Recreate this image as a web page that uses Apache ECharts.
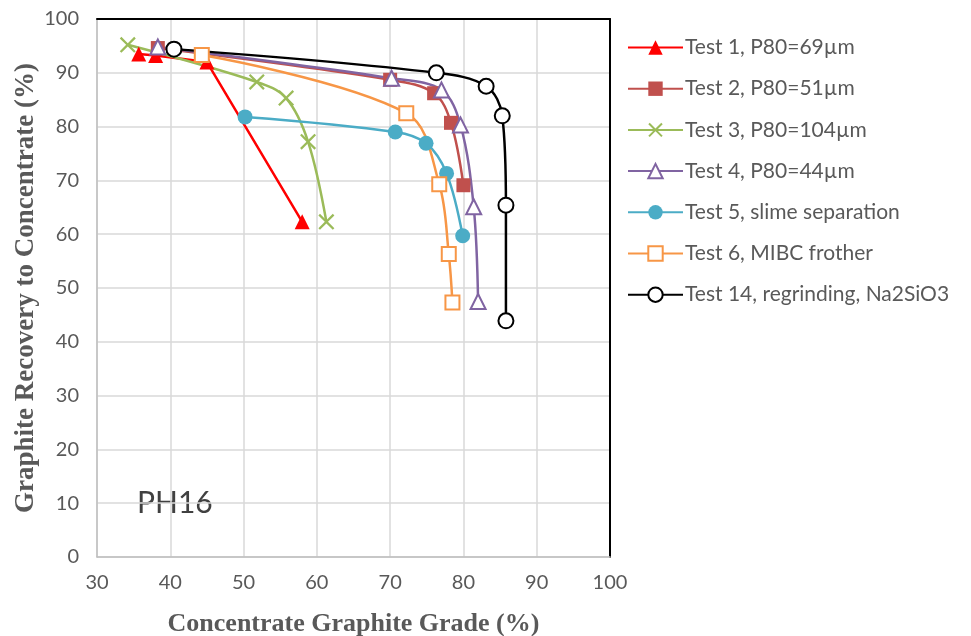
<!DOCTYPE html>
<html>
<head>
<meta charset="utf-8">
<script src="https://cdn.jsdelivr.net/npm/echarts@6/dist/echarts.min.js"></script>
<style>
  html, body { margin: 0; padding: 0; background: #fff; }
  #chart { width: 971px; height: 636px; }
</style>
</head>
<body>
<div id="chart"></div>
<script>
// 数据：每个试验的 [品位, 回收率]
const seriesNames = [
  'Test 1, P80=69µm',
  'Test 2, P80=51µm',
  'Test 3, P80=104µm',
  'Test 4, P80=44µm',
  'Test 5, slime separation',
  'Test 6, MIBC frother',
  'Test 14, regrinding, Na2SiO3'
];
const test1 = [[35.7, 93.5], [38.0, 93.2], [45.0, 92.0], [58.0, 62.3]];
const test2 = [[38.3, 94.6], [70.0, 88.7], [76.0, 86.2], [78.3, 80.7], [80.0, 69.1]];
const test3 = [[34.2, 95.2], [51.8, 88.3], [55.8, 85.3], [58.8, 77.2], [61.3, 62.3]];
const test4 = [[38.3, 94.8], [70.2, 89.0], [77.0, 86.8], [79.6, 80.3], [81.4, 65.1], [82.0, 47.5]];
const test5 = [[50.2, 81.8], [70.7, 79.0], [74.9, 76.9], [77.7, 71.3], [79.9, 59.7]];
const test6 = [[44.3, 93.3], [72.2, 82.5], [76.7, 69.3], [78.0, 56.3], [78.5, 47.3]];
const test14 = [[40.5, 94.4], [76.3, 90.0], [83.1, 87.5], [85.3, 82.0], [85.8, 65.4], [85.8, 43.9]];
const xTicks = [30, 100, 10];
const yTicks = [0, 100, 10];

const allData = [test1, test2, test3, test4, test5, test6, test14];
const colors = ['#FF0000', '#C0504D', '#9BBB59', '#8064A2', '#4BACC6', '#F79646', '#000000'];
const crossPath = 'path://M0,1 L1,0 L5,4 L9,0 L10,1 L6,5 L10,9 L9,10 L5,6 L1,10 L0,9 L4,5 Z';
const symbols = ['triangle', 'rect', crossPath, 'emptyTriangle', 'circle', 'emptyRect', 'emptyCircle'];
const symbolSizes = [15, 14, 16, 15, 15, 14, 15];
const smoothFlags = [false, 0.35, 0.35, 0.35, 0.35, 0.35, 0.35];

const labelColor = '#595959';
const tickFont = 'Lato, "Open Sans", sans-serif';
const titleFont = '"Liberation Serif", "DejaVu Serif", serif';

const chart = echarts.init(document.getElementById('chart'));
chart.setOption({
  animation: false,
  backgroundColor: '#fff',
  grid: { left: 97, top: 19, width: 513, height: 538, outerBoundsMode: 'none', containLabel: false },
  legend: {
    orient: 'vertical',
    left: 622,
    top: 32,
    itemWidth: 55,
    itemHeight: 18,
    itemGap: 20.2,
    textStyle: { color: labelColor, fontSize: 21, fontFamily: tickFont, padding: [0, 0, 0, -3] },
    data: seriesNames
  },
  xAxis: [{
    type: 'value',
    min: xTicks[0], max: xTicks[1], interval: xTicks[2],
    name: 'Concentrate Graphite Grade (%)',
    nameLocation: 'middle',
    nameGap: 54,
    nameTextStyle: { color: labelColor, fontSize: 26, fontWeight: 'bold', fontFamily: titleFont },
    axisLine: { show: true, lineStyle: { color: '#bfbfbf', width: 1.5 } },
    axisTick: { show: false },
    axisLabel: { color: labelColor, fontSize: 20, fontFamily: tickFont, margin: 16 },
    splitLine: { show: true, lineStyle: { color: '#d9d9d9', width: 1.5 } }
  }, {
    type: 'value', position: 'top',
    min: xTicks[0], max: xTicks[1],
    axisLine: { show: true, onZero: false, lineStyle: { color: '#000', width: 2 } },
    axisTick: { show: false }, axisLabel: { show: false }, splitLine: { show: false }
  }],
  yAxis: [{
    type: 'value',
    min: yTicks[0], max: yTicks[1], interval: yTicks[2],
    name: 'Graphite Recovery to Concentrate (%)',
    nameLocation: 'middle',
    nameGap: 57,
    nameMoveOverlap: false,
    nameTextStyle: { color: labelColor, fontSize: 27, fontWeight: 'bold', fontFamily: titleFont },
    axisLine: { show: true, lineStyle: { color: '#bfbfbf', width: 1.5 } },
    axisTick: { show: false },
    axisLabel: { color: labelColor, fontSize: 20, fontFamily: tickFont, margin: 18 },
    splitLine: { show: true, lineStyle: { color: '#d9d9d9', width: 1.5 } }
  }, {
    type: 'value', position: 'right',
    min: yTicks[0], max: yTicks[1],
    axisLine: { show: true, onZero: false, lineStyle: { color: '#000', width: 2 } },
    axisTick: { show: false }, axisLabel: { show: false }, splitLine: { show: false }
  }],
  graphic: [{
    type: 'text',
    left: 137, top: 488,
    style: { text: 'PH16', fill: '#404040', font: '30px Lato, "Open Sans", sans-serif' }
  }],
  series: allData.map((d, i) => ({
    name: seriesNames[i],
    type: 'line',
    data: d,
    smooth: smoothFlags[i],
    symbol: symbols[i],
    symbolSize: symbolSizes[i],
    showAllSymbol: true,
    lineStyle: { color: colors[i], width: 2.5 },
    itemStyle: { color: colors[i], borderColor: colors[i], borderWidth: symbols[i].startsWith('empty') ? 2 : 0 },
    emphasis: { disabled: true }
  }))
});
</script>
</body>
</html>
